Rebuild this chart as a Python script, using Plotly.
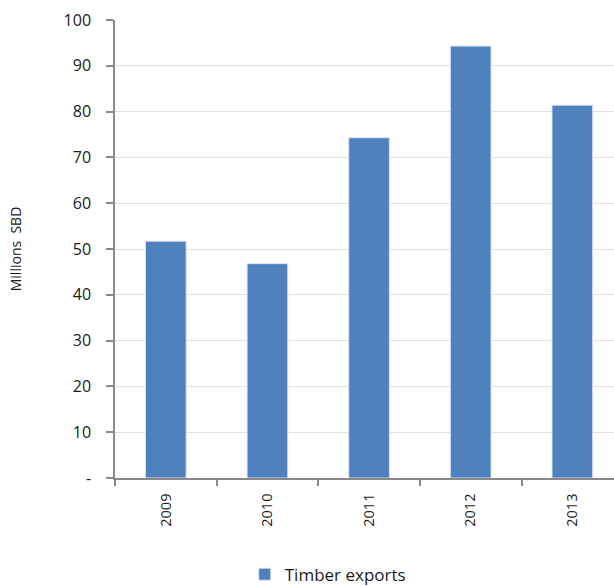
import plotly.graph_objects as go

# Timber export values, millions of SBD
years = ["2009", "2010", "2011", "2012", "2013"]
timber_exports = [51.7, 46.8, 74.3, 94.3, 81.4]

y_tick_values = [0, 10, 20, 30, 40, 50, 60, 70, 80, 90, 100]
y_tick_labels = ["-", "10", "20", "30", "40", "50", "60", "70", "80", "90", "100"]

font_family = "Open Sans, Lato, sans-serif"
text_color = "#1a1a1a"
axis_color = "#898989"

fig = go.Figure(
    go.Bar(
        x=years,
        y=timber_exports,
        name="Timber exports",
        marker=dict(color="#4F81BD", line=dict(color="rgba(220,230,245,0.9)", width=1)),
        width=0.4,
    )
)

fig.update_layout(
    width=614,
    height=586,
    margin=dict(l=115, r=0, t=20, b=108, autoexpand=False),
    paper_bgcolor="white",
    plot_bgcolor="white",
    showlegend=True,
    legend=dict(
        orientation="h",
        x=0.26,
        xanchor="left",
        y=-0.211,
        yanchor="middle",
        font=dict(family=font_family, size=17, color=text_color),
        itemwidth=30,
    ),
    font=dict(family=font_family, color=text_color),
)

fig.update_xaxes(
    type="category",
    range=[-0.5, 4.41],
    tickson="boundaries",
    ticks="outside",
    ticklen=6,
    tickcolor=axis_color,
    tickwidth=1.5,
    showline=True,
    linecolor=axis_color,
    linewidth=1.5,
    tickangle=-90,
    ticklabelstandoff=8,
    tickfont=dict(size=14.5, color=text_color),
    showgrid=False,
    automargin=False,
)

fig.update_yaxes(
    range=[0, 100],
    tickvals=y_tick_values,
    ticktext=y_tick_labels,
    ticks="outside",
    ticklen=7,
    tickcolor=axis_color,
    tickwidth=1.5,
    showline=True,
    linecolor=axis_color,
    linewidth=1.5,
    showgrid=True,
    gridcolor="#e0e0e0",
    gridwidth=1,
    zeroline=False,
    ticklabelstandoff=12,
    tickfont=dict(size=16, color=text_color),
    title=dict(text="Millions  SBD", font=dict(size=14, color=text_color), standoff=39),
    automargin=False,
)

fig.write_html("out.html")
